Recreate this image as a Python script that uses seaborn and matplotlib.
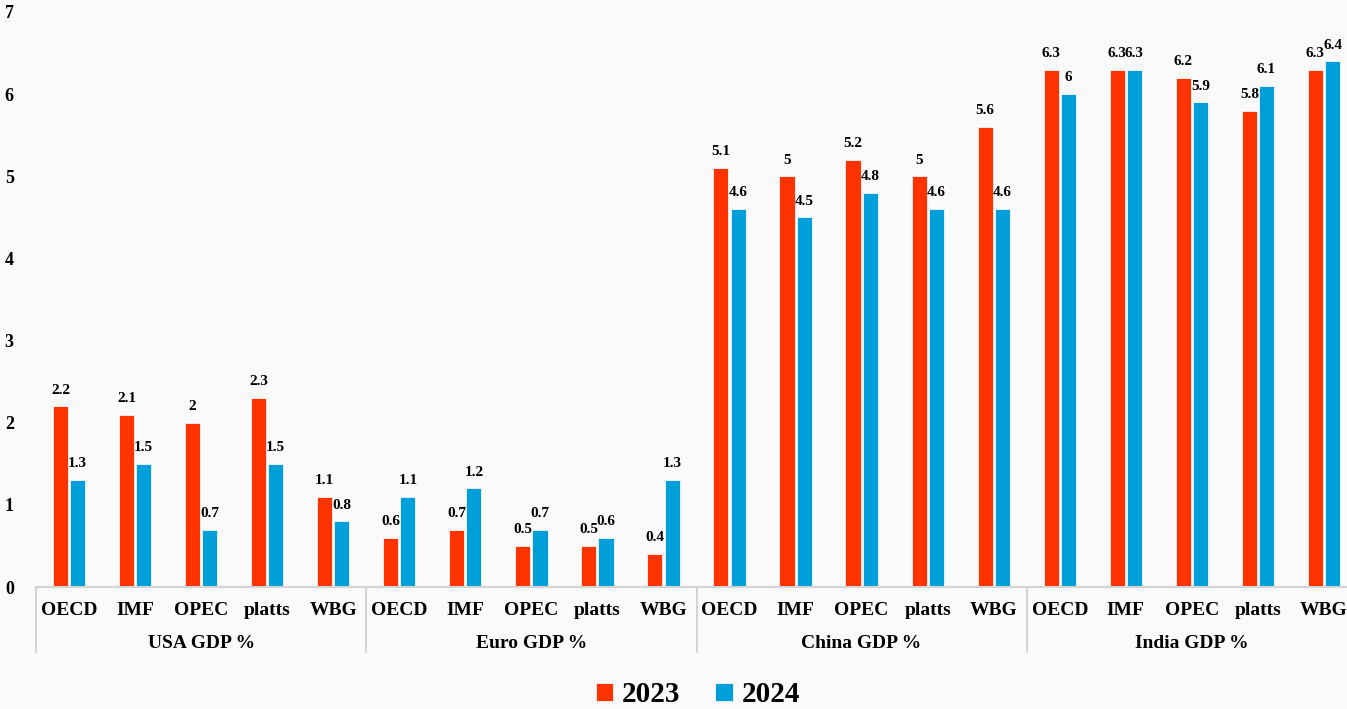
import pandas as pd
import seaborn as sns
import matplotlib.pyplot as plt
import matplotlib.transforms as mtransforms

# data
regions = ['USA GDP %', 'Euro GDP %', 'China GDP %', 'India GDP %']
sources = ['OECD', 'IMF', 'OPEC', 'platts', 'WBG']
years = ['2023', '2024']
gdp_2023 = [2.2, 2.1, 2, 2.3, 1.1,
            0.6, 0.7, 0.5, 0.5, 0.4,
            5.1, 5, 5.2, 5, 5.6,
            6.3, 6.3, 6.2, 5.8, 6.3]
gdp_2024 = [1.3, 1.5, 0.7, 1.5, 0.8,
            1.1, 1.2, 0.7, 0.6, 1.3,
            4.6, 4.5, 4.8, 4.6, 4.6,
            6, 6.3, 5.9, 6.1, 6.4]

keys = [r + '|' + s for r in regions for s in sources]
df = pd.DataFrame({
    'key': keys * 2,
    'year': ['2023'] * len(keys) + ['2024'] * len(keys),
    'value': gdp_2023 + gdp_2024,
})

sns.set_style('white')
plt.rcParams['font.family'] = ['Liberation Serif', 'DejaVu Serif']
plt.rcParams['font.weight'] = 'bold'
plt.rcParams['text.color'] = 'black'
plt.rcParams['xtick.color'] = 'black'
plt.rcParams['ytick.color'] = 'black'

fig = plt.figure(figsize=(13.47, 7.09), dpi=100)
bg = '#fafafa'
fig.patch.set_facecolor(bg)
ax = fig.add_axes([36 / 1347, 122 / 709, 1321 / 1347, 575 / 709])
ax.set_facecolor(bg)

sns.barplot(data=df, x='key', y='value', hue='year', order=keys, hue_order=years,
            palette=['#ff3300', '#009fd9'], saturation=1, width=0.52, gap=0.12,
            edgecolor='#f4f4f4', linewidth=0.6, ax=ax)

for c in ax.containers:
    ax.bar_label(c, fmt='%g', padding=7, fontsize=11, fontweight='bold', color='black')

ax.set_ylim(0, 7)
ax.set_xlim(-0.5, len(keys) - 0.5)
ax.set_yticks(range(0, 8))
ax.set_yticklabels([str(v) for v in range(0, 8)], fontsize=13, fontweight='bold')
ax.set_xticks(range(len(keys)))
ax.set_xticklabels(sources * len(regions), fontsize=14, fontweight='bold')
ax.tick_params(axis='both', length=0)
ax.tick_params(axis='x', pad=11)
ax.tick_params(axis='y', pad=16)
ax.set_xlabel('')
ax.set_ylabel('')
for s in ['top', 'right', 'left']:
    ax.spines[s].set_visible(False)
ax.spines['bottom'].set_color('#d4d4d4')
ax.spines['bottom'].set_linewidth(1.5)

# group separators and labels
trans = mtransforms.blended_transform_factory(ax.transData, ax.transAxes)
for i, r in enumerate(regions):
    x0 = i * len(sources) - 0.5
    ax.plot([x0, x0], [0, -0.113], transform=trans, color='#d4d4d4', lw=1.5, clip_on=False)
    ax.text(x0 + len(sources) / 2, -0.098, r, transform=trans, ha='center', va='center',
            fontsize=14, fontweight='bold')
x_end = len(keys) - 0.5
ax.plot([x_end, x_end], [0, -0.113], transform=trans, color='#d4d4d4', lw=1.5, clip_on=False)

handles, labels = ax.get_legend_handles_labels()
ax.get_legend().remove()
fig.legend(handles, labels, loc='center', bbox_to_anchor=(0.518, 0.02), ncol=2,
           frameon=False, prop={'size': 21, 'weight': 'bold'},
           handlelength=0.6, handleheight=0.6, handletextpad=0.3, columnspacing=1.2)

fig.savefig('out.png', dpi=100, facecolor=bg)
